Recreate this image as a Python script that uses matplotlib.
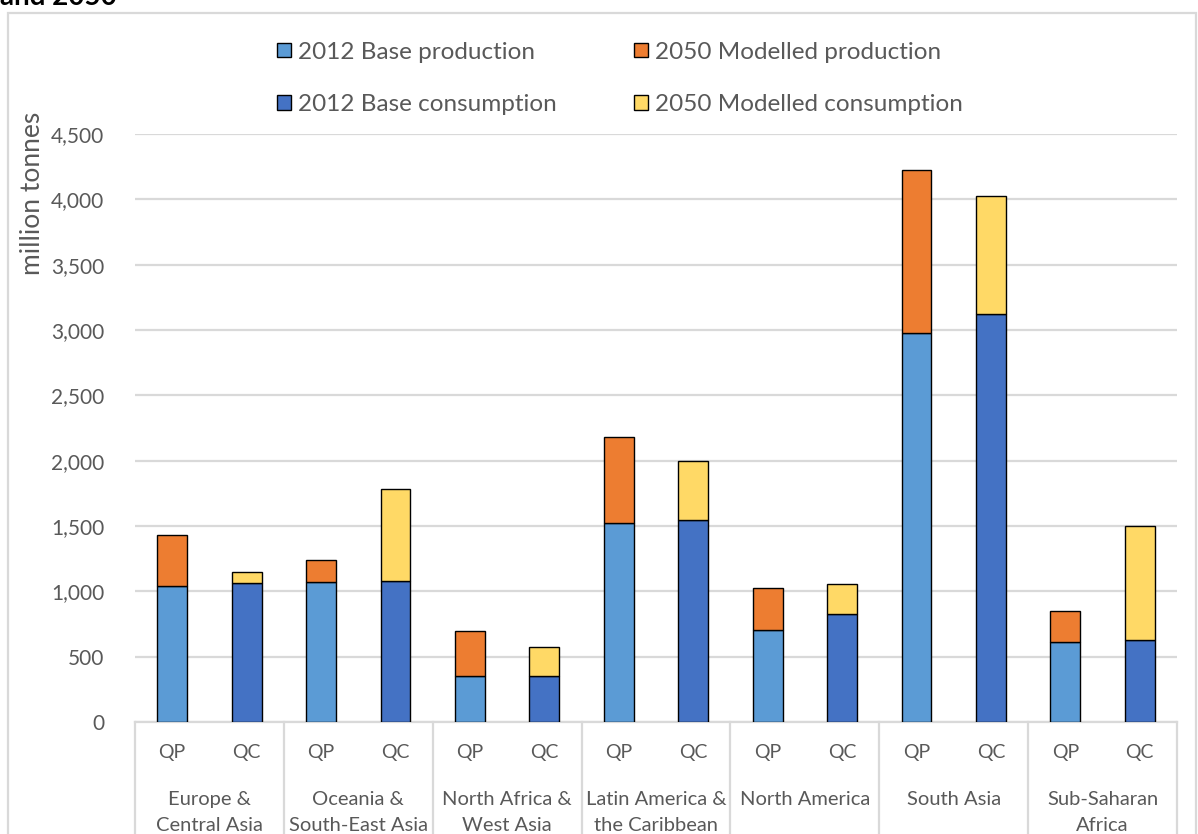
import matplotlib
matplotlib.use("Agg")
import matplotlib.pyplot as plt
from matplotlib.patches import Patch, Rectangle
import matplotlib.transforms as mtransforms

plt.rcParams['font.family'] = ['Lato', 'DejaVu Sans']

regions = ["Europe &\nCentral Asia", "Oceania &\nSouth-East Asia", "North Africa &\nWest Asia",
           "Latin America &\nthe Caribbean", "North America", "South Asia", "Sub-Saharan\nAfrica"]
bar_labels = ["QP", "QC"]

# million tonnes
base_production = [1044, 1071, 355, 1523, 701, 2978, 614]
modelled_production_total = [1434, 1237, 699, 2181, 1026, 4221, 849]
base_consumption = [1064, 1082, 355, 1544, 830, 3125, 628]
modelled_consumption_total = [1151, 1786, 571, 1997, 1057, 4025, 1497]

y_ticks = [0, 500, 1000, 1500, 2000, 2500, 3000, 3500, 4000, 4500]

c_base_prod = "#5B9BD5"
c_base_cons = "#4472C4"
c_mod_prod = "#ED7D31"
c_mod_cons = "#FFD966"
grid_c = "#D9D9D9"
text_c = "#595959"

W, H = 1198, 834
fig = plt.figure(figsize=(W / 100, H / 100), dpi=100)
ax = fig.add_axes([135 / W, 1 - 722 / H, (1177 - 135) / W, (722 - 134) / H])

n = len(regions)
xp = [2 * i for i in range(n)]
xc = [2 * i + 1 for i in range(n)]
bw = 0.4
ek = dict(edgecolor="black", linewidth=1.0, zorder=3)

ax.bar(xp, base_production, bw, color=c_base_prod, **ek)
ax.bar(xp, [t - b for t, b in zip(modelled_production_total, base_production)], bw,
       bottom=base_production, color=c_mod_prod, **ek)
ax.bar(xc, base_consumption, bw, color=c_base_cons, **ek)
ax.bar(xc, [t - b for t, b in zip(modelled_consumption_total, base_consumption)], bw,
       bottom=base_consumption, color=c_mod_cons, **ek)

ax.set_xlim(-0.5, 2 * n - 0.5)
ax.set_ylim(0, 4500)
ax.set_yticks(y_ticks)
ax.set_yticklabels([f"{v:,}" for v in y_ticks], color=text_c, fontsize=15)
ax.tick_params(axis="y", length=0, pad=22)
ax.set_xticks(xp + xc)
ax.set_xticklabels([bar_labels[0]] * n + [bar_labels[1]] * n, color=text_c, fontsize=14)
ax.tick_params(axis="x", length=0, pad=16)
ax.yaxis.grid(True, color=grid_c, linewidth=1.6, zorder=0)
ax.set_axisbelow(True)
for s in ["top", "right", "left"]:
    ax.spines[s].set_visible(False)
ax.spines["bottom"].set_color(grid_c)
ax.spines["bottom"].set_linewidth(1.6)

# group labels and separators beneath the category axis
trans = mtransforms.blended_transform_factory(ax.transData, ax.transAxes)
ax_h_px = 722 - 134
for i, name in enumerate(regions):
    ax.text(2 * i + 0.5, -69 / ax_h_px, name, transform=trans, ha="center", va="top",
            fontsize=14.5, color=text_c, linespacing=1.62)
for k in range(n + 1):
    ax.plot([2 * k - 0.5, 2 * k - 0.5], [0, -(H - 722 + 5) / ax_h_px], transform=trans,
            color=grid_c, linewidth=1.6, clip_on=False)

fig.text(33 / W, 1 - 193 / H, "million tonnes", rotation=90, ha="center", va="center",
         fontsize=19, color=text_c)

# outer chart border
fig.add_artist(Rectangle((8 / W, -0.05), (1196 - 8) / W, 1 - 13 / H + 0.05, transform=fig.transFigure,
                         fill=False, edgecolor=grid_c, linewidth=1.6))

fig.text(0.0, 1 - 5 / H, "and 2050", fontsize=20, fontweight="bold", ha="left", va="baseline",
         color="black")

handles = [Patch(facecolor=c_base_prod, edgecolor="black", label="2012 Base production"),
           Patch(facecolor=c_base_cons, edgecolor="black", label="2012 Base consumption"),
           Patch(facecolor=c_mod_prod, edgecolor="black", label="2050 Modelled production"),
           Patch(facecolor=c_mod_cons, edgecolor="black", label="2050 Modelled consumption")]
leg = fig.legend(handles=handles, ncol=2, loc="center", bbox_to_anchor=(620 / W, 1 - 78.5 / H),
                 frameon=False, fontsize=17.5, handlelength=0.55, handleheight=0.55,
                 handletextpad=0.3, labelspacing=1.3, columnspacing=3.2)
for t in leg.get_texts():
    t.set_color(text_c)

fig.savefig("out.png", dpi=100)
